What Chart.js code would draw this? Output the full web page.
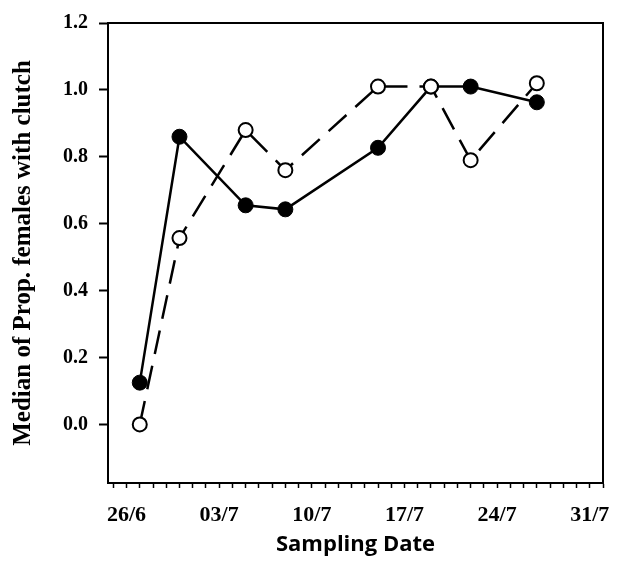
<!DOCTYPE html>
<html>
<head>
<meta charset="utf-8">
<script src="https://cdn.jsdelivr.net/npm/chart.js@4"></script>
<style>
  html, body { margin: 0; padding: 0; background: #ffffff; }
  #wrap { width: 617px; height: 576px; }
</style>
</head>
<body>
<div id="wrap"><canvas id="c" width="617" height="576"></canvas></div>
<script>
// Sampling days, counted from 26 June (day 0)
const samplingDays = [1, 4, 9, 12, 19, 23, 26, 31];
// Median proportion of females carrying a clutch
const filledMedians = [0.125, 0.86, 0.655, 0.643, 0.827, 1.01, 1.01, 0.963];
const openMedians = [0.0, 0.557, 0.88, 0.76, 1.01, 1.01, 0.79, 1.02];
// Axis ticks
const dateTickDays = [0, 7, 14, 21, 28, 35];
const dateTickLabels = ['26/6', '03/7', '10/7', '17/7', '24/7', '31/7'];
const yTickValues = [0, 0.2, 0.4, 0.6, 0.8, 1.0, 1.2];

const toPoints = (vals) => samplingDays.map((d, i) => ({ x: d, y: vals[i] }));

// Closed frame around the plotting area
const frame = {
  id: 'frame',
  beforeDatasetsDraw(chart) {
    const { ctx, chartArea: a } = chart;
    ctx.save();
    ctx.strokeStyle = '#000';
    ctx.lineWidth = 2;
    ctx.strokeRect(a.left, a.top, a.right - a.left, a.bottom - a.top);
    ctx.restore();
  }
};

new Chart(document.getElementById('c'), {
  type: 'line',
  data: {
    datasets: [
      {
        data: toPoints(openMedians),
        order: 0,
        borderColor: '#000',
        borderWidth: 2.5,
        borderDash: [24, 12],
        pointRadius: 7,
        pointBorderWidth: 2,
        pointBorderColor: '#000',
        pointBackgroundColor: '#fff',
        tension: 0,
        clip: false
      },
      {
        data: toPoints(filledMedians),
        order: 1,
        borderColor: '#000',
        borderWidth: 2.5,
        pointRadius: 7.5,
        pointBorderWidth: 1,
        pointBorderColor: '#000',
        pointBackgroundColor: '#000',
        tension: 0,
        clip: false
      }
    ]
  },
  options: {
    responsive: false,
    animation: false,
    devicePixelRatio: 1,
    layout: { padding: { left: 0, right: 11, top: 18, bottom: 0 } },
    plugins: { legend: { display: false }, tooltip: { enabled: false } },
    scales: {
      x: {
        type: 'linear',
        min: -1.4,
        max: 36,
        afterBuildTicks(sc) {
          const t = [];
          for (let d = -1; d <= 36; d++) t.push({ value: d });
          sc.ticks = t;
        },
        afterFit(sc) { sc.height = 93; },
        border: { display: true, color: '#000', width: 2 },
        grid: { drawOnChartArea: false, color: '#000', tickLength: 5, tickWidth: 1.5 },
        ticks: {
          autoSkip: false,
          maxRotation: 0,
          color: '#000',
          padding: 14,
          font: { family: '"Liberation Serif", "Times New Roman", serif', size: 22, weight: 'bold' },
          callback(v) {
            const i = dateTickDays.indexOf(v);
            return i >= 0 ? dateTickLabels[i] : '';
          }
        },
        title: {
          display: true,
          text: 'Sampling Date',
          color: '#000',
          font: { family: '"Open Sans", sans-serif', size: 22, weight: 'bold' },
          padding: { top: 0, bottom: 18 }
        }
      },
      y: {
        min: -0.175,
        max: 1.2,
        afterBuildTicks(sc) { sc.ticks = yTickValues.map(v => ({ value: v })); },
        afterFit(sc) { sc.width = 108; },
        border: { display: true, color: '#000', width: 2 },
        grid: { drawOnChartArea: false, color: '#000', tickLength: 9, tickWidth: 2 },
        ticks: {
          color: '#000',
          padding: 11,
          font: { family: '"Liberation Serif", "Times New Roman", serif', size: 20, weight: 'bold' },
          callback(v) { return Number(v).toFixed(1); }
        },
        title: {
          display: true,
          text: 'Median of Prop. females with clutch',
          color: '#000',
          font: { family: '"Liberation Serif", "Times New Roman", serif', size: 25, weight: 'bold' },
          padding: { top: 9, bottom: 0 }
        }
      }
    }
  },
  plugins: [frame]
});
</script>
</body>
</html>
